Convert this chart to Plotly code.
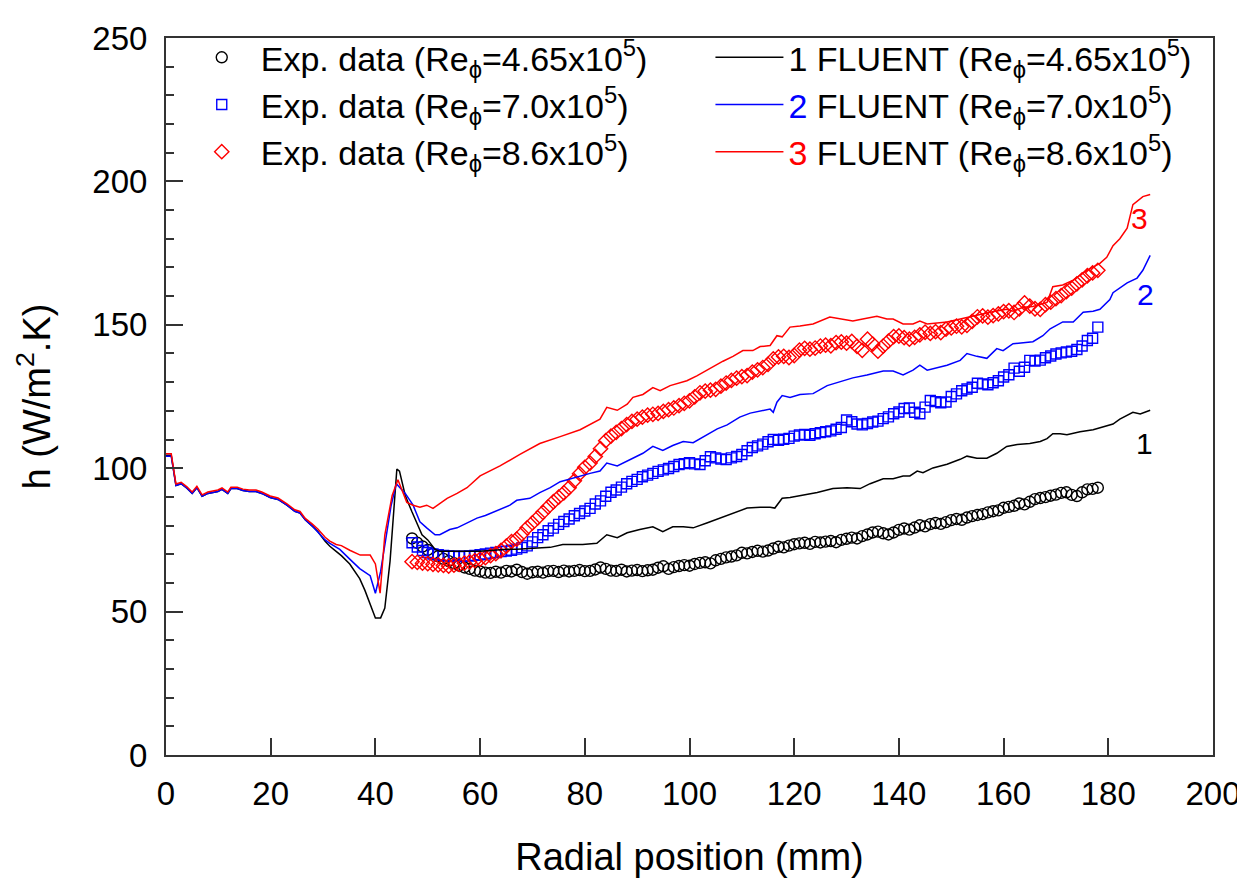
import plotly.graph_objects as go

# ---- experimental data (radial position in mm, h in W/m2.K) ----
exp_x = [47, 48, 49, 50, 51, 52, 53, 54, 55, 56, 57, 58, 59, 60, 61, 62, 63, 64, 65, 66,
         67, 68, 69, 70, 71, 72, 73, 74, 75, 76, 77, 78, 79, 80, 81, 82, 83, 84, 85, 86,
         87, 88, 89, 90, 91, 92, 93, 94, 95, 96, 97, 98, 99, 100, 101, 102, 103, 104, 105, 106,
         107, 108, 109, 110, 111, 112, 113, 114, 115, 116, 117, 118, 119, 120, 121, 122, 123, 124, 125, 126,
         127, 128, 129, 130, 131, 132, 133, 134, 135, 136, 137, 138, 139, 140, 141, 142, 143, 144, 145, 146,
         147, 148, 149, 150, 151, 152, 153, 154, 155, 156, 157, 158, 159, 160, 161, 162, 163, 164, 165, 166,
         167, 168, 169, 170, 171, 172, 173, 174, 175, 176, 177, 178]

exp_1 = [75.5, 74.0, 72.7, 71.5, 70.2, 69.3, 68.4, 67.6, 66.9, 66.0, 65.4, 64.9, 64.3, 64.0, 63.6, 63.5, 63.9, 63.6, 64.2, 64.0,
         64.6, 63.8, 63.2, 63.7, 63.9, 63.6, 64.1, 64.2, 63.8, 64.3, 64.0, 64.2, 64.5, 64.1, 64.2, 64.7, 65.4, 64.9, 64.3, 64.2,
         64.6, 64.0, 64.3, 64.5, 64.1, 64.4, 64.6, 65.3, 65.8, 64.9, 65.5, 65.9, 66.2, 66.0, 66.6, 67.0, 67.2, 66.8, 67.9, 68.4,
         68.9, 69.2, 69.6, 70.5, 70.3, 70.8, 71.2, 70.9, 71.3, 72.0, 72.6, 72.4, 73.0, 73.5, 73.8, 74.0, 73.6, 74.3, 74.1, 74.4,
         74.6, 74.2, 75.0, 75.4, 75.8, 75.5, 76.3, 76.9, 77.6, 77.9, 77.3, 76.9, 77.6, 78.5, 79.0, 78.6, 79.3, 80.1, 79.7, 80.5,
         80.9, 80.6, 81.2, 81.9, 82.3, 82.0, 82.8, 83.3, 83.7, 84.0, 84.6, 85.0, 85.3, 86.2, 86.5, 86.9, 87.7, 87.4, 88.3, 89.2,
         89.6, 89.9, 90.4, 90.8, 91.4, 91.6, 90.7, 90.3, 91.6, 92.6, 92.8, 93.2]

exp_2 = [74.0, 72.5, 71.3, 70.6, 70.1, 69.8, 69.6, 69.4, 69.3, 69.2, 69.3, 69.4, 69.6, 69.8, 70.1, 70.4, 70.6, 70.9, 71.1, 71.4,
         71.8, 72.3, 72.9, 74.3, 75.8, 76.8, 78.2, 79.1, 80.4, 81.4, 82.3, 83.4, 84.2, 85.1, 86.0, 87.5, 88.6, 90.2, 91.6, 92.4,
         93.4, 94.6, 95.4, 96.1, 97.0, 97.6, 98.2, 98.9, 99.4, 99.9, 100.6, 101.3, 101.6, 101.9, 101.5, 101.3, 102.6, 104.0, 103.6, 103.2,
         103.0, 103.6, 104.1, 104.8, 106.1, 107.2, 107.8, 108.4, 109.2, 110.0, 109.7, 110.1, 110.4, 111.2, 111.6, 111.8, 111.5, 112.0, 112.4, 112.7,
         113.0, 113.6, 114.2, 116.8, 116.2, 115.4, 115.1, 115.6, 116.1, 116.4, 117.3, 117.9, 119.0, 119.6, 120.8, 121.0, 119.5, 119.0, 121.3, 123.6,
         123.2, 122.8, 123.1, 125.0, 125.9, 127.0, 127.6, 128.2, 129.6, 129.4, 129.1, 129.8, 130.5, 131.8, 132.6, 134.9, 133.8, 135.2, 137.6, 137.4,
         137.7, 138.5, 139.1, 139.8, 140.2, 140.5, 140.8, 141.4, 142.6, 144.5, 145.3, 149.2]

exp_3 = [67.4, 67.2, 66.9, 66.7, 66.5, 66.3, 66.1, 65.9, 66.2, 66.5, 66.9, 67.3, 67.8, 68.3, 68.8, 69.5, 70.2, 71.3, 72.8, 74.4,
         75.3, 77.1, 79.2, 80.9, 82.7, 84.6, 86.5, 88.3, 89.9, 91.4, 93.2, 95.6, 98.1, 100.3, 101.8, 104.1, 106.8, 109.6, 111.2, 112.5,
         113.8, 115.2, 116.3, 117.1, 117.8, 118.5, 118.8, 119.1, 119.8, 120.4, 121.0, 121.8, 122.6, 123.5, 124.9, 126.3, 126.9, 127.2, 127.5, 128.6,
         129.7, 130.6, 131.4, 131.9, 132.3, 133.5, 134.3, 135.1, 136.2, 138.1, 138.8, 139.0, 138.6, 139.3, 141.2, 141.8, 141.5, 141.9, 142.6, 142.9,
         142.7, 143.8, 144.0, 143.6, 144.2, 142.5, 141.1, 145.0, 143.3, 140.8, 142.6, 144.3, 145.9, 146.1, 145.5, 145.0, 145.6, 146.5, 147.4, 147.0,
         147.6, 147.3, 148.5, 148.9, 149.5, 149.3, 149.8, 151.2, 152.8, 153.1, 152.7, 153.2, 153.8, 154.6, 154.9, 154.3, 155.6, 157.6, 156.5, 155.6,
         155.4, 157.0, 157.9, 159.1, 160.2, 161.6, 162.8, 164.3, 165.7, 167.1, 168.1, 169.0]

# ---- FLUENT predictions ----
fl1_x = [0, 1, 1.9, 2.9, 4, 5, 5.9, 6.9, 8, 9.9, 10.7, 11.8, 12.4, 13.6, 14.7, 15.9, 17.2, 18.3, 19.9, 21.4,
         23.1, 24.6, 25.6, 26.6, 27.9, 29, 30.4, 31.3, 32.5, 33.5, 35.1, 37, 38, 40, 41, 41.8, 42.8, 44.1, 44.6, 45.7,
         47, 48, 48.9, 50, 51.4, 52.3, 55, 57.5, 60, 62, 65, 67, 69.5, 71.5, 73.4, 75.8, 77.5, 79.6, 82.3, 84.2,
         86.2, 88.1, 90.5, 93, 94.9, 96.8, 98.8, 100.7, 103.3, 105.8, 108.3, 111, 113.5, 115.4, 116.3, 117.7, 119.2, 121.7, 124.4, 127.4,
         130.1, 132.6, 134.5, 137, 138.9, 140.8, 142.1, 143.5, 144.6, 146.5, 149.2, 151.7, 153, 154.9, 156.8, 158.7, 160.6, 162.6, 165, 167,
         168.3, 169.4, 170.8, 172.1, 174.6, 177.1, 179, 180.9, 182.2, 184.7, 186.1, 188]
fl1_y = [104.5, 104.5, 94, 94.6, 93, 91.2, 93.2, 90.2, 91.2, 91.9, 92.6, 91.2, 92.9, 92.9, 92.2, 91.9, 91.9, 91.2, 89.8, 89.1,
         87.1, 85, 84.4, 82, 79.9, 77.9, 74.5, 72.8, 71, 69.5, 66.6, 61.5, 57.4, 47.8, 47.8, 51.2, 67.6, 99.7, 99, 90.5,
         84.7, 80.3, 76.8, 75, 71.7, 71, 71, 71, 71, 71.3, 71.7, 71.7, 72, 72.2, 72.4, 73.4, 73.4, 73.4, 73.8, 76.8,
         75.8, 77.5, 78.6, 79.6, 77.9, 79.6, 79.6, 79.2, 80.9, 82.6, 84.4, 86.1, 86.4, 86.4, 86.1, 89.5, 89.8, 90.5, 91.5, 92.9,
         93.2, 92.9, 94.6, 96.3, 96.3, 97.3, 97.3, 99, 98.4, 100.1, 101.4, 103.1, 104.2, 103.5, 103.5, 105.2, 107.6, 108.3, 108.6, 109.3,
         110.3, 112, 112, 111.7, 112.7, 113.4, 114.4, 115.4, 117.1, 119.5, 118.9, 120.2]

fl2_x = [0, 1, 1.9, 2.9, 4, 5, 5.9, 6.9, 8, 9.9, 10.7, 11.8, 12.4, 13.6, 14.7, 15.9, 17.2, 18.3, 19.9, 21.4,
         23.1, 24.6, 25.6, 26.6, 27.9, 29, 30.4, 31.3, 33.2, 35.1, 37, 39, 40, 41, 42, 43, 44, 45.7, 47.2, 48.5,
         49.8, 51.4, 52.3, 54.2, 55.6, 57.5, 59.4, 61, 62.5, 64, 65.7, 67, 69.5, 71.4, 73.4, 75.3, 77, 79.1, 81, 82.9,
         84.2, 86.2, 88.1, 89.2, 91.1, 93, 94.9, 96.8, 98.8, 100.7, 103.3, 105.3, 107.2, 109.6, 111.6, 113.5, 115.4, 116, 116.7, 117.7,
         119.2, 121.1, 123.6, 126.3, 128.2, 131.2, 133.9, 137, 138.9, 140.8, 142.7, 144, 145.4, 149.2, 151.7, 153, 154.9, 156.8, 158.7, 159.9,
         161.8, 165.6, 167.5, 168.9, 171.3, 173.3, 175.2, 177.1, 178.4, 180.3, 180.9, 183.6, 185.5, 186.6, 188]
fl2_y = [104.2, 104.2, 94, 94.6, 93, 91.2, 93.2, 90.2, 91.2, 91.9, 92.6, 91.2, 92.9, 92.9, 92.2, 91.9, 91.9, 91.2, 89.8, 89.1,
         87.1, 85, 84.4, 82, 79.9, 77.9, 75.0, 73.8, 71.7, 68.3, 65, 62.5, 56.4, 64, 75, 87, 94.6, 91.2, 87.1, 81.3,
         79.2, 76.8, 76.8, 78.6, 79.2, 81, 82.6, 83.5, 84.7, 86, 87.1, 88.8, 89.5, 91.5, 93.2, 95.3, 96.2, 97.3, 98.2, 99,
         101.8, 100.8, 102.5, 103.5, 105.2, 107.6, 106.2, 107.9, 109.3, 108.9, 111.7, 113.7, 115.1, 117.8, 119.2, 119.9, 120.6, 119.5, 123, 125.3,
         124.7, 125.7, 126, 128.8, 129.8, 131.5, 132.5, 133.9, 133.9, 132.5, 134.2, 135.9, 134.2, 135.9, 137.6, 140, 139, 138.3, 141.7, 141,
         143.4, 144.1, 146.2, 148.6, 151, 151, 154.4, 154.7, 155.4, 158.8, 161.2, 164.6, 166.3, 169, 174.2]

fl3_x = [0, 1, 1.9, 2.9, 4, 5, 5.9, 6.9, 8, 9.9, 10.7, 11.8, 12.4, 13.6, 14.7, 15.9, 17.2, 18.3, 19.9, 21.4,
         23.1, 24.6, 25.6, 26.6, 27.9, 29, 30.4, 31.3, 32.5, 33.5, 35.1, 37.1, 39, 40, 40.9, 41.8, 43.2, 44.3, 46, 47.2,
         48.5, 49.8, 51, 52.3, 53.7, 55.6, 57.5, 60, 63.8, 67.6, 71.4, 75.3, 79.1, 82.9, 84.2, 86.2, 88.1, 89.2, 91.1, 93,
         94.4, 96.3, 98.2, 99.5, 101.4, 103.3, 104.5, 106.4, 108.3, 110.2, 112.1, 113.5, 115.4, 116.7, 117.7, 119.2, 121.1, 123.6, 126.8, 129.3,
         131.2, 133.1, 135.8, 137.7, 138.9, 140.8, 142.7, 144, 145.4, 149.2, 151.7, 155.5, 157.4, 160.6, 161.8, 163.7, 165.6, 168.3, 169.4, 171.3,
         173.3, 175.9, 178.4, 179.7, 180.9, 182.2, 183.6, 184.7, 186.6, 188]
fl3_y = [105, 105, 94.5, 95.1, 93.5, 91.7, 93.7, 90.7, 91.7, 92.4, 93.1, 91.7, 93.4, 93.4, 92.7, 92.4, 92.4, 91.7, 90.3, 89.6,
         87.6, 85.5, 84.9, 82.5, 80.6, 78.8, 75.9, 74.6, 73.4, 73, 71.4, 69.7, 69.7, 66.6, 56.4, 76.8, 90.5, 96, 88.1, 87.1,
         86.4, 87.1, 86, 87.8, 89.5, 91.2, 93.2, 97.3, 100.8, 104.8, 108.6, 111, 113.4, 117.1, 121.2, 120.2, 122.3, 124.7, 125.7, 128.1,
         127, 128.8, 129.8, 130.5, 132.2, 134.2, 135.6, 137.3, 139, 141, 141, 142.4, 142.8, 146.2, 145.8, 149.2, 149.6, 150.3, 152.7, 152,
         151.3, 152, 153, 152, 152, 150.3, 150.3, 151.3, 150.3, 151, 152, 153.7, 154.4, 155.4, 154.7, 156.1, 156.4, 157.8, 163.3, 163.9,
         165.6, 169, 171.4, 173.5, 177.6, 180, 183.7, 191.9, 194.7, 195.4]

FONT = "Liberation Sans, Arial, sans-serif"
sub = "Re<sub>ϕ</sub>"

fig = go.Figure()

# experimental points
fig.add_trace(go.Scatter(x=exp_x, y=exp_1, mode="markers", legend="legend",
                         name=f"Exp. data ({sub}=4.65x10<sup>5</sup>)",
                         marker=dict(symbol="circle-open", size=11, color="black", line=dict(width=1.4))))
fig.add_trace(go.Scatter(x=exp_x, y=exp_2, mode="markers", legend="legend",
                         name=f"Exp. data ({sub}=7.0x10<sup>5</sup>)",
                         marker=dict(symbol="square-open", size=10, color="#0000ff", line=dict(width=1.4))))
fig.add_trace(go.Scatter(x=exp_x, y=exp_3, mode="markers", legend="legend",
                         name=f"Exp. data ({sub}=8.6x10<sup>5</sup>)",
                         marker=dict(symbol="diamond-open", size=11, color="#ff0000", line=dict(width=1.4))))

# FLUENT curves
fig.add_trace(go.Scatter(x=fl1_x, y=fl1_y, mode="lines", legend="legend2",
                         name=f"1 FLUENT ({sub}=4.65x10<sup>5</sup>)",
                         line=dict(color="black", width=1.5)))
fig.add_trace(go.Scatter(x=fl2_x, y=fl2_y, mode="lines", legend="legend2",
                         name=f"<span style='color:#0000ff'>2</span> FLUENT ({sub}=7.0x10<sup>5</sup>)",
                         line=dict(color="#0000ff", width=1.5)))
fig.add_trace(go.Scatter(x=fl3_x, y=fl3_y, mode="lines", legend="legend2",
                         name=f"<span style='color:#ff0000'>3</span> FLUENT ({sub}=8.6x10<sup>5</sup>)",
                         line=dict(color="#ff0000", width=1.5)))

# curve numbers
fig.add_annotation(x=186, y=187, text="3", showarrow=False, font=dict(size=30, color="#ff0000", family=FONT))
fig.add_annotation(x=187.2, y=160.5, text="2", showarrow=False, font=dict(size=30, color="#0000ff", family=FONT))
fig.add_annotation(x=187, y=108.6, text="1", showarrow=False, font=dict(size=30, color="black", family=FONT))

axis_common = dict(
    showline=True, linecolor="#333333", linewidth=2, mirror=True,
    ticks="inside", ticklen=17, tickwidth=1.5, tickcolor="#333333",
    showgrid=False, zeroline=False, ticklabeloverflow="allow",
    tickfont=dict(size=33, family=FONT, color="black"),
)

fig.update_xaxes(range=[0, 200], dtick=20, tick0=0, ticklabelstandoff=8,
                 title=dict(text="Radial position (mm)", font=dict(size=38, family=FONT, color="black"), standoff=33),
                 **axis_common)
fig.update_yaxes(range=[0, 250], dtick=50, tick0=0, ticklabelstandoff=10,
                 minor=dict(dtick=10, ticks="inside", ticklen=8, tickwidth=1.5, tickcolor="#333333"),
                 title=dict(text="h (W/m<sup>2</sup>.K)", font=dict(size=38, family=FONT, color="black"), standoff=30),
                 **axis_common)

legend_common = dict(
    font=dict(size=34, family=FONT, color="black"),
    bgcolor="rgba(0,0,0,0)", borderwidth=0,
    xanchor="left", yanchor="top", itemwidth=68, tracegroupgap=0,
)

# page body adds an 8 px offset, margins compensate for it
fig.update_layout(
    width=1245, height=887,
    margin=dict(l=158, r=40, t=15, b=140),
    plot_bgcolor="white", paper_bgcolor="white",
    font=dict(family=FONT, color="black"),
    legend=dict(x=0.016, y=1.013, **legend_common),
    legend2=dict(x=0.52, y=1.013, **legend_common),
)

fig.write_html("out.html")
